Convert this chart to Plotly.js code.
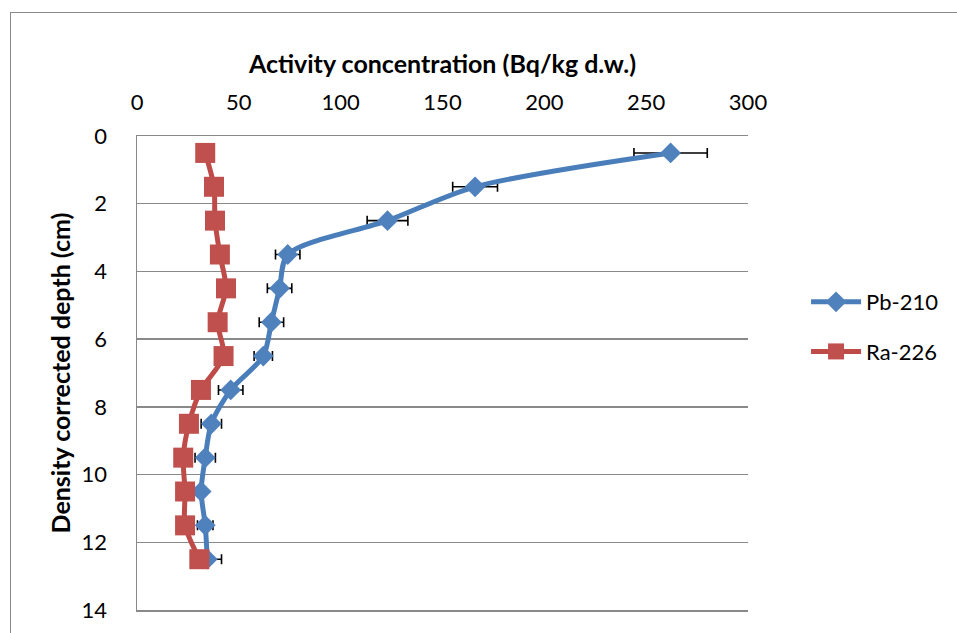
<!DOCTYPE html>
<html>
<head>
<meta charset="utf-8">
<script src="https://cdn.plot.ly/plotly-3.0.1.min.js"></script>
<style>
  html, body { margin: 0; padding: 0; background: #fff; }
  #wrap { position: relative; width: 957px; height: 633px; overflow: hidden; }
  #chart { position: absolute; left: 0; top: 0; width: 957px; height: 633px; }
  #frame { position: absolute; left: 10px; top: 12px; width: 960px; height: 640px;
           border-left: 1.5px solid #898989; border-top: 1.5px solid #898989; pointer-events: none; }
</style>
</head>
<body>
<div id="wrap">
  <div id="chart"></div>
  <div id="frame"></div>
</div>
<script>
// Depth (cm), density corrected
const depth = [0.5, 1.5, 2.5, 3.5, 4.5, 5.5, 6.5, 7.5, 8.5, 9.5, 10.5, 11.5, 12.5];
// Pb-210 activity (Bq/kg d.w.) and uncertainty
const pb210 = [262, 166, 123, 74, 70, 66, 62, 46, 36.5, 33.5, 31.5, 33.5, 34.5];
const pb210Err = [18, 11, 10, 6, 6, 6, 4.5, 6, 5, 5, 2, 3.8, 7];
// Ra-226 activity (Bq/kg d.w.)
const ra226 = [33.5, 37.8, 38.3, 40.7, 43.7, 39.6, 42.5, 31.4, 25.5, 22.7, 23.6, 23.6, 30.6];
// Axis tick values
const xTicks = [0, 50, 100, 150, 200, 250, 300];
const yTicks = [0, 2, 4, 6, 8, 10, 12, 14];

const FONT = 'Lato, "Open Sans", sans-serif';

const traces = [
  {
    x: pb210, y: depth, name: 'Pb-210', type: 'scatter', mode: 'lines+markers',
    legendgroup: 'pb',
    line: {color: '#4A7EBB', width: 5, shape: 'spline', smoothing: 0.8},
    marker: {symbol: 'diamond', size: 16, color: '#4F81BD', line: {width: 0}},
    error_x: {type: 'data', array: pb210Err, visible: true, color: '#000', thickness: 1.6, width: 5}
  },
  {
    x: ra226, y: depth, name: 'Ra-226', type: 'scatter', mode: 'lines+markers',
    legendgroup: 'ra',
    line: {color: '#BE4B48', width: 5, shape: 'spline', smoothing: 0.8},
    marker: {symbol: 'square', size: 20, color: '#C0504D', line: {width: 0}}
  }
];

const layout = {
  width: 957, height: 633,
  margin: {l: 137, r: 209, t: 136, b: 23, pad: 0},
  paper_bgcolor: '#fff', plot_bgcolor: '#fff',
  font: {family: FONT, size: 22, color: '#000'},
  showlegend: true,
  legend: {
    x: 1.095, xanchor: 'left', y: 0.597, yanchor: 'middle',
    font: {family: FONT, size: 22, color: '#000'},
    tracegroupgap: 18, itemwidth: 50, bgcolor: 'rgba(0,0,0,0)'
  },
  xaxis: {
    side: 'top', range: [0, 300], tickvals: xTicks, ticktext: xTicks.map(String),
    showgrid: false, zeroline: false, showline: true, mirror: true,
    linecolor: '#898989', linewidth: 1.5, ticks: '', ticklabelstandoff: 16,
    tickfont: {family: FONT, size: 22, color: '#000'},
    title: {text: '<b>Activity concentration (Bq/kg d.w.)</b>', standoff: 7,
            font: {family: FONT, size: 25, color: '#000'}},
    fixedrange: true
  },
  yaxis: {
    range: [14, 0], tickvals: yTicks, ticktext: yTicks.map(String),
    showgrid: true, gridcolor: '#898989', gridwidth: 1.5, zeroline: false,
    showline: true, linecolor: '#898989', linewidth: 1.5, ticks: '', ticklabelstandoff: 24,
    tickfont: {family: FONT, size: 22, color: '#000'},
    title: {text: '<b>Density corrected depth (cm)</b>', standoff: 4,
            font: {family: FONT, size: 25, color: '#000'}},
    fixedrange: true
  }
};

Plotly.newPlot('chart', traces, layout, {displayModeBar: false, staticPlot: true});
</script>
</body>
</html>
